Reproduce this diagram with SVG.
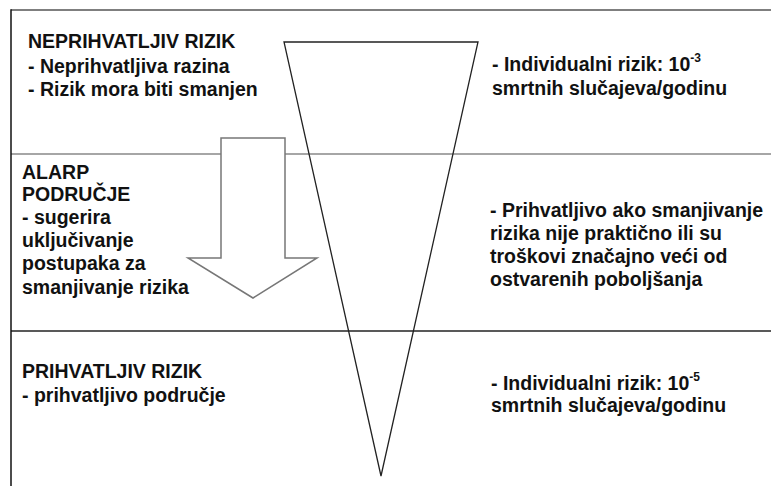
<svg xmlns="http://www.w3.org/2000/svg" width="771" height="486" viewBox="0 0 771 486">
<style>
.t{font-family:"Liberation Sans",Arial,sans-serif;font-weight:bold;font-size:19.5px;fill:#111}
.sup{font-size:12px}
.frame{stroke-width:1.5;fill:none}
</style>
<rect width="771" height="486" fill="#fff"/>
<g id="frame">
<line x1="11" y1="10" x2="771" y2="10" stroke="#555" class="frame"/>
<line x1="11" y1="154" x2="771" y2="154" stroke="#888" class="frame"/>
<line x1="11" y1="331" x2="771" y2="331" stroke="#222" class="frame"/>
<line x1="11" y1="9.3" x2="11" y2="486" stroke="#111" class="frame"/>
</g>
<g id="triangle">
<polygon points="284,42 478,42 381,476" fill="none" stroke="#222" stroke-width="1.3"/>
</g>
<g id="arrow">
<polygon points="221,138 285,138 285,258 317,258 253,298 188,258 221,258" fill="#fff" stroke="#777" stroke-width="1.5"/>
</g>
<g id="unacceptable">
<text class="t" x="28" y="48">NEPRIHVATLJIV RIZIK</text>
<text class="t" x="28" y="72.5">- Neprihvatljiva razina</text>
<text class="t" x="28" y="95.5">- Rizik mora biti smanjen</text>
<text class="t" x="492" y="71">- Individualni rizik: 10<tspan class="sup" dy="-9">-3</tspan></text>
<text class="t" x="492" y="94.5">smrtnih slučajeva/godinu</text>
</g>
<g id="alarp">
<text class="t" x="22" y="179">ALARP</text>
<text class="t" x="22" y="201">PODRUČJE</text>
<text class="t" x="22" y="224">- sugerira</text>
<text class="t" x="22" y="247">uključivanje</text>
<text class="t" x="22" y="270">postupaka za</text>
<text class="t" x="22" y="294">smanjivanje rizika</text>
<text class="t" x="490" y="217">- Prihvatljivo ako smanjivanje</text>
<text class="t" x="490" y="240">rizika nije praktično ili su</text>
<text class="t" x="490" y="263">troškovi značajno veći od</text>
<text class="t" x="490" y="286">ostvarenih poboljšanja</text>
</g>
<g id="acceptable">
<text class="t" x="22" y="378">PRIHVATLJIV RIZIK</text>
<text class="t" x="22" y="401.5">- prihvatljivo područje</text>
<text class="t" x="491" y="390">- Individualni rizik: 10<tspan class="sup" dy="-9">-5</tspan></text>
<text class="t" x="491" y="412">smrtnih slučajeva/godinu</text>
</g>
</svg>
